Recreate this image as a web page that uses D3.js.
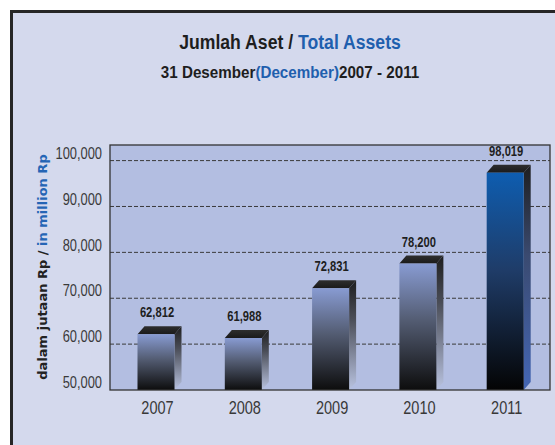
<!DOCTYPE html>
<html><head><meta charset="utf-8">
<script src="https://cdn.jsdelivr.net/npm/d3@7/dist/d3.min.js"></script>
<style>
html,body{margin:0;padding:0;background:#fff;}
svg{display:block;}
</style></head>
<body>
<script>
const years = ["2007","2008","2009","2010","2011"];
const values = [62812, 61988, 72831, 78200, 98019];
const valueLabels = ["62,812","61,988","72,831","78,200","98,019"];
const yTicks = [50000, 60000, 70000, 80000, 90000, 100000];
const highlightYear = "2011";

const W = 555, H = 445;
const COND = "'Liberation Sans', Arial, sans-serif";
const svg = d3.select("body").append("svg").attr("width", W).attr("height", H);
const defs = svg.append("defs");

function grad(id, stops) {
  const g = defs.append("linearGradient").attr("id", id)
    .attr("x1", 0).attr("y1", 0).attr("x2", 0).attr("y2", 1);
  stops.forEach(s => g.append("stop").attr("offset", s[0]).attr("stop-color", s[1]));
}
grad("frontN", [[0, "#889bd2"], [0.45, "#535c72"], [1, "#0d0d0d"]]);
grad("frontH", [[0, "#0e5db0"], [0.45, "#1f3c68"], [1, "#040404"]]);
grad("sideN", [[0, "#1e1e1e"], [0.35, "#4a4d57"], [1, "#b9c3e0"]]);
grad("sideH", [[0, "#1e1e1e"], [0.4, "#3a4a70"], [1, "#4466b4"]]);
grad("topF", [[0, "#2e2e2e"], [1, "#1a1a1a"]]);

// outer panel
svg.append("rect").attr("x", 0).attr("y", 0).attr("width", W).attr("height", H).attr("fill", "#ffffff");
svg.append("rect").attr("x", 11.5).attr("y", 11.5).attr("width", W + 20).attr("height", H + 20)
  .attr("fill", "#d4d9ed").attr("stroke", "#262626").attr("stroke-width", 3);

// scales
const plot = {x0: 110, x1: 550, y0: 145, y1: 390};
const y = d3.scaleLinear().domain([50000, 103400]).range([plot.y1, plot.y0]);
const x = d3.scaleBand().domain(years).range([137.5, 523.7]).paddingInner(0.576).paddingOuter(0);
const dx = 7, dy = 8, sink = 3;

// plot background
svg.append("rect").attr("x", plot.x0).attr("y", plot.y0)
  .attr("width", plot.x1 - plot.x0).attr("height", plot.y1 - plot.y0)
  .attr("fill", "#b3bee1");

// gridlines
svg.append("g").selectAll("line").data(yTicks.filter(t => t > 50000)).join("line")
  .attr("x1", plot.x0).attr("x2", plot.x1)
  .attr("y1", d => y(d)).attr("y2", d => y(d))
  .attr("stroke", "#3a3a3a").attr("stroke-width", 1).attr("stroke-dasharray", "4,2");

// bars
const bars = svg.append("g").selectAll("g").data(years).join("g");
bars.each(function(yr, i) {
  const g = d3.select(this);
  const xl = x(yr), xr = x(yr) + x.bandwidth();
  const yt = y(values[i]) + sink, yb = y(50000);
  const hi = yr === highlightYear;
  g.append("path")
    .attr("d", `M${xr},${yt} L${xr + dx},${yt - dy} L${xr + dx},${yb - dy} L${xr},${yb} Z`)
    .attr("fill", hi ? "url(#sideH)" : "url(#sideN)");
  g.append("path")
    .attr("d", `M${xl},${yt} L${xl + dx},${yt - dy} L${xr + dx},${yt - dy} L${xr},${yt} Z`)
    .attr("fill", "url(#topF)");
  g.append("rect").attr("x", xl).attr("y", yt).attr("width", xr - xl).attr("height", yb - yt)
    .attr("fill", hi ? "url(#frontH)" : "url(#frontN)");
  g.append("text")
    .attr("transform", `translate(${(xl + xr) / 2 + 1},${yt - dy - 9}) scale(0.8,1)`)
    .attr("text-anchor", "middle")
    .attr("font-family", COND)
    .attr("font-weight", "bold").attr("font-size", 14).attr("fill", "#1e1e1e")
    .text(valueLabels[i]);
});

// plot border
svg.append("rect").attr("x", plot.x0).attr("y", plot.y0)
  .attr("width", plot.x1 - plot.x0).attr("height", plot.y1 - plot.y0)
  .attr("fill", "none").attr("stroke", "#333").attr("stroke-width", 1.3);

// y axis
const yAxis = svg.append("g").attr("transform", `translate(${plot.x0 - 8},0)`)
  .call(d3.axisLeft(y).tickValues(yTicks).tickSize(0).tickPadding(0).tickFormat(d3.format(",")));
yAxis.select(".domain").remove();
yAxis.selectAll("text")
  .attr("font-family", COND).attr("transform", "scale(0.79,1)")
  .attr("font-size", 16.3).attr("fill", "#3a3a3a").attr("dy", "-0.14em");

// x axis labels
const xAxis = svg.append("g").attr("transform", `translate(${dx / 2 - 2},${plot.y1 + 12})`)
  .call(d3.axisBottom(x).tickSize(0).tickPadding(0));
xAxis.select(".domain").remove();
xAxis.selectAll("text")
  .attr("font-family", COND).attr("transform", "scale(0.83,1)")
  .attr("font-size", 17.5).attr("fill", "#383838").attr("dy", "0.71em");

// y axis title
const yt = svg.append("text").attr("transform", "translate(47,267) rotate(-90)")
  .attr("text-anchor", "middle")
  .attr("font-family", "'DejaVu Sans',sans-serif")
  .attr("font-weight", "bold").attr("font-size", 13);
yt.append("tspan").attr("fill", "#222").text("dalam jutaan Rp /  ");
yt.append("tspan").attr("fill", "#2565b5").text("in million Rp");

// titles
const t1 = svg.append("text").attr("transform", "translate(290,49) scale(0.84,1)")
  .attr("text-anchor", "middle")
  .attr("font-family", COND)
  .attr("font-weight", "bold").attr("font-size", 21);
t1.append("tspan").attr("fill", "#1e1e1e").text("Jumlah Aset / ");
t1.append("tspan").attr("fill", "#1f5fae").text("Total Assets");

const t2 = svg.append("text").attr("transform", "translate(290,78) scale(0.95,1)")
  .attr("text-anchor", "middle")
  .attr("font-family", COND)
  .attr("font-weight", "bold").attr("font-size", 16);
t2.append("tspan").attr("fill", "#1e1e1e").text("31 Desember");
t2.append("tspan").attr("fill", "#1f5fae").text("(December)");
t2.append("tspan").attr("fill", "#1e1e1e").text("2007 - 2011");
</script>
</body></html>
